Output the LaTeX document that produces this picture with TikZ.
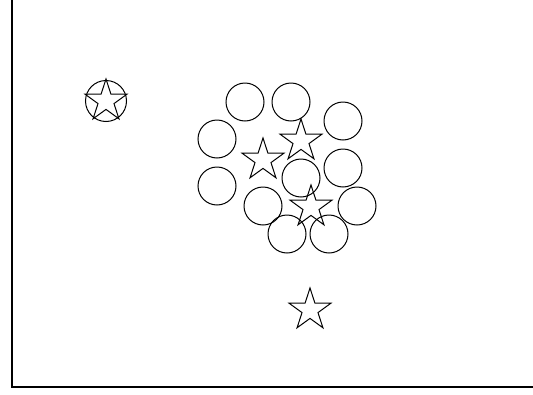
\documentclass[tikz,border=0pt]{standalone}
\usetikzlibrary{shapes.geometric}

\begin{document}
\begin{tikzpicture}[x=1pt, y=-1pt,
  ring/.style={circle, draw, line width=1pt, minimum size=38pt, inner sep=0pt},
  pentstar/.style={star, star points=5, star point ratio=2.618, draw, line width=1pt, minimum size=44pt, inner sep=0pt}]

\useasboundingbox (0,0) rectangle (533,394);

% Frame
\coordinate (top) at (12,0);
\coordinate (corner) at (12,387);
\coordinate (right) at (533,387);
\draw[line width=1.4pt] (top) -- (corner) -- (right);

% Lone star in its circle
\node[ring, minimum size=41pt] (ring0) at (106,101) {};
\node[pentstar] (star0) at (106,101) {};

% Circles
\node[ring] (c1) at (245,102) {};
\node[ring] (c2) at (291,102) {};
\node[ring] (c3) at (343,121) {};
\node[ring] (c4) at (217,139) {};
\node[ring] (c5) at (343,168) {};
\node[ring] (c6) at (301,178) {};
\node[ring] (c7) at (217,186) {};
\node[ring] (c8) at (263,206) {};
\node[ring] (c9) at (357,206) {};
\node[ring] (c10) at (287,234) {};
\node[ring] (c11) at (329,234) {};

% Stars
\node[pentstar] (s1) at (263,160) {};
\node[pentstar] (s2) at (301,141) {};
\node[pentstar] (s3) at (311,207) {};
\node[pentstar] (s4) at (310,310) {};

\end{tikzpicture}
\end{document}
